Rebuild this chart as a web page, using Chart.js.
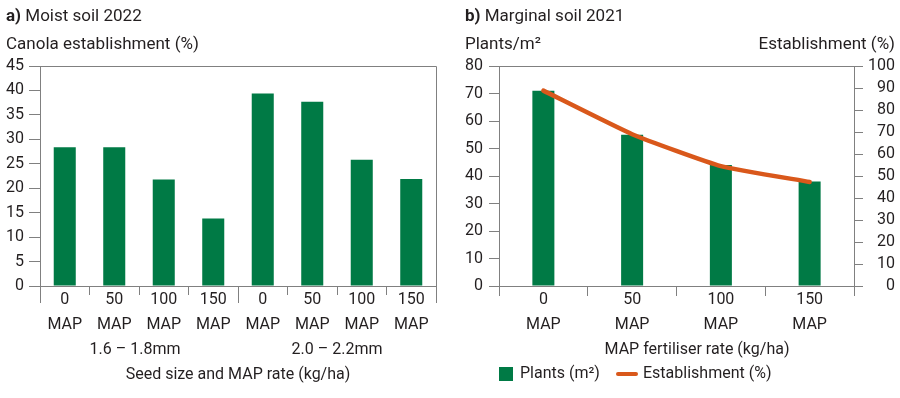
<!DOCTYPE html>
<html><head><meta charset="utf-8">
<script src="https://cdn.jsdelivr.net/npm/chart.js@4.4.0/dist/chart.umd.min.js"></script>
<style>
html,body{margin:0;padding:0;background:#fff;}
#wrap{position:relative;width:900px;height:398px;overflow:hidden;}
canvas{position:absolute;top:0;}
</style></head>
<body>
<div id="wrap">
<canvas id="ca" width="450" height="398" style="left:0"></canvas>
<canvas id="cb" width="450" height="398" style="left:450px"></canvas>
</div>
<script>
// ---------- data ----------
const mapRatesA = [["0","MAP"],["50","MAP"],["100","MAP"],["150","MAP"],["0","MAP"],["50","MAP"],["100","MAP"],["150","MAP"]];
const seedGroupsA = ["1.6 – 1.8mm", "2.0 – 2.2mm"];
const establishmentA = [28.4, 28.4, 21.8, 13.8, 39.4, 37.7, 25.8, 21.9];

const mapRatesB = [["0","MAP"],["50","MAP"],["100","MAP"],["150","MAP"]];
const plantsB = [71, 55, 44, 38];
const establishmentB = [88.8, 69, 54.5, 47.3];

// ---------- styles ----------
const GREEN = '#007a45';
const ORANGE = '#d9581b';
const GRAY = '#808080';
const TXT = '#231f20';
const FAM = 'Roboto, "Open Sans", sans-serif';
Chart.defaults.font.family = FAM;
Chart.defaults.color = TXT;

function crisp(v){ return Math.round(v) + 0.5; }
function line(ctx, x1, y1, x2, y2){ ctx.beginPath(); ctx.moveTo(x1,y1); ctx.lineTo(x2,y2); ctx.stroke(); }

// ---------- chart a ----------
const decorA = {
  id: 'decorA',
  afterDraw(chart){
    const {ctx, chartArea: a, scales} = chart;
    ctx.save();
    ctx.strokeStyle = GRAY; ctx.lineWidth = 1;
    // frame top and right
    line(ctx, crisp(a.left), crisp(a.top), crisp(a.right), crisp(a.top));
    line(ctx, crisp(a.right), crisp(a.top), crisp(a.right), a.bottom);
    // long group dividers
    const x = scales.x;
    const n = mapRatesA.length;
    const half = (x.getPixelForValue(1) - x.getPixelForValue(0)) / 2;
    [0, n/2, n].forEach(i => {
      const px = i < n ? x.getPixelForValue(i) - half : x.getPixelForValue(n-1) + half;
      line(ctx, crisp(px), a.bottom, crisp(px), a.bottom + 17);
    });
    ctx.fillStyle = TXT;
    ctx.textBaseline = 'middle';
    // group labels
    ctx.font = '16px ' + FAM;
    ctx.textAlign = 'center';
    seedGroupsA.forEach((g, gi) => {
      const cx = (x.getPixelForValue(gi*4+1) + x.getPixelForValue(gi*4+2)) / 2 - (gi === 0 ? 4 : 0);
      ctx.fillText(g, cx, 350);
    });
    ctx.fillText('Seed size and MAP rate (kg/ha)', (a.left + a.right)/2, 375);
    // titles
    ctx.textAlign = 'left';
    ctx.font = 'bold 17px ' + FAM;
    ctx.fillText('a)', 6, 17);
    const w = ctx.measureText('a) ').width;
    ctx.font = '17px ' + FAM;
    ctx.fillText('Moist soil 2022', 6 + w, 17);
    ctx.fillText('Canola establishment (%)', 6, 45);
    ctx.restore();
  }
};

new Chart(document.getElementById('ca'), {
  type: 'bar',
  data: {
    labels: mapRatesA,
    datasets: [{
      label: 'Canola establishment (%)',
      data: establishmentA,
      backgroundColor: GREEN,
      borderWidth: 0,
      categoryPercentage: 1,
      barPercentage: 0.445
    }]
  },
  options: {
    responsive: false,
    animation: false,
    devicePixelRatio: 1,
    layout: { padding: { left: 0, top: 66, right: 14, bottom: 0 } },
    plugins: { legend: { display: false }, tooltip: { enabled: false } },
    scales: {
      x: {
        offset: true,
        grid: { drawOnChartArea: false, tickLength: 9, color: GRAY, offset: true },
        border: { color: GRAY },
        ticks: { color: TXT, font: { size: 16, lineHeight: 1.6 }, padding: -8, maxRotation: 0, autoSkip: false },
        afterFit(s){ s.height = 112; }
      },
      y: {
        min: 0, max: 45,
        ticks: { stepSize: 5, padding: 5, autoSkip: false, color: TXT, font: { size: 16 } },
        grid: { drawOnChartArea: false, tickLength: 11, color: GRAY },
        border: { color: GRAY },
        afterFit(s){ s.width = 40; }
      }
    }
  },
  plugins: [decorA]
});

// ---------- chart b ----------
const decorB = {
  id: 'decorB',
  afterDraw(chart){
    const {ctx, chartArea: a} = chart;
    ctx.save();
    ctx.strokeStyle = GRAY; ctx.lineWidth = 1;
    line(ctx, crisp(a.left), crisp(a.top), crisp(a.right), crisp(a.top));
    ctx.fillStyle = TXT;
    ctx.textBaseline = 'middle';
    ctx.font = '16px ' + FAM;
    ctx.textAlign = 'center';
    ctx.fillText('MAP fertiliser rate (kg/ha)', 247, 350);
    // legend
    ctx.fillStyle = GREEN;
    ctx.fillRect(49, 367, 14, 14);
    ctx.strokeStyle = ORANGE; ctx.lineWidth = 4; ctx.lineCap = 'round';
    line(ctx, 168, 374, 186, 374);
    ctx.fillStyle = TXT;
    ctx.textAlign = 'left';
    ctx.fillText('Plants (m²)', 70, 374);
    ctx.fillText('Establishment (%)', 193, 374);
    // titles
    ctx.font = 'bold 17px ' + FAM;
    ctx.fillText('b)', 15, 17);
    const w = ctx.measureText('b) ').width;
    ctx.font = '17px ' + FAM;
    ctx.fillText('Marginal soil 2021', 15 + w, 17);
    ctx.fillText('Plants/m²', 15, 45);
    ctx.textAlign = 'right';
    ctx.fillText('Establishment (%)', 445, 45);
    ctx.restore();
  }
};

new Chart(document.getElementById('cb'), {
  type: 'bar',
  data: {
    labels: mapRatesB,
    datasets: [{
      type: 'line',
      label: 'Establishment (%)',
      data: establishmentB,
      yAxisID: 'y1',
      borderColor: ORANGE,
      borderWidth: 4.5,
      borderCapStyle: 'round',
      pointRadius: 0,
      tension: 0.15,
      order: 0
    }, {
      type: 'bar',
      label: 'Plants (m²)',
      data: plantsB,
      yAxisID: 'y',
      backgroundColor: GREEN,
      borderWidth: 0,
      categoryPercentage: 1,
      barPercentage: 0.248,
      order: 1
    }]
  },
  options: {
    responsive: false,
    animation: false,
    devicePixelRatio: 1,
    layout: { padding: { left: 0, top: 66, right: 5, bottom: 0 } },
    plugins: { legend: { display: false }, tooltip: { enabled: false } },
    scales: {
      x: {
        offset: true,
        grid: { drawOnChartArea: false, tickLength: 10, color: GRAY, offset: true },
        border: { color: GRAY },
        ticks: { color: TXT, font: { size: 16, lineHeight: 1.6 }, padding: -9, maxRotation: 0, autoSkip: false },
        afterFit(s){ s.height = 112; }
      },
      y: {
        position: 'left',
        min: 0, max: 80,
        ticks: { stepSize: 10, padding: 6, autoSkip: false, color: TXT, font: { size: 16 } },
        grid: { drawOnChartArea: false, tickLength: 10, color: GRAY },
        border: { color: GRAY },
        afterFit(s){ s.width = 49; }
      },
      y1: {
        position: 'right',
        min: 0, max: 100,
        ticks: { stepSize: 10, autoSkip: false, crossAlign: 'far', color: TXT, font: { size: 16 } },
        grid: { drawOnChartArea: false, tickLength: 9, color: GRAY },
        border: { color: GRAY },
        afterFit(s){ s.width = 41; }
      }
    }
  },
  plugins: [decorB]
});
</script>
</body></html>
